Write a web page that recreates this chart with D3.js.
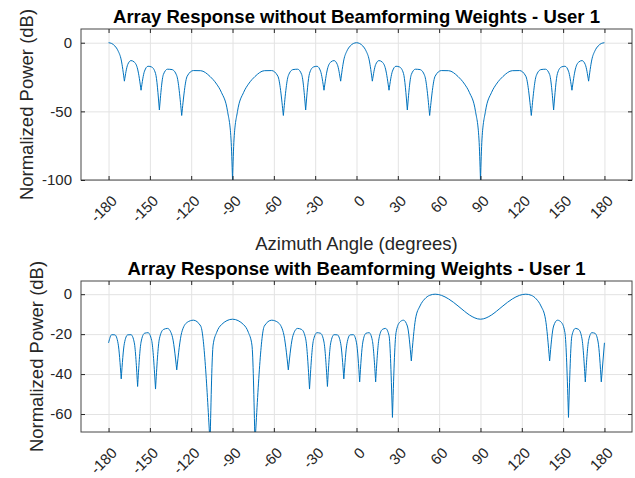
<!DOCTYPE html>
<html><head><meta charset="utf-8">
<script src="https://cdn.jsdelivr.net/npm/d3@7"></script>
<style>
html,body{margin:0;padding:0;background:#fff;}
svg{display:block;font-family:"Liberation Sans",Arial,sans-serif;}
</style></head>
<body>
<svg id="c" width="635" height="478"></svg>
<script>
// ---------- data ----------
const xTicks = [-180,-150,-120,-90,-60,-30,0,30,60,90,120,150,180];
const topYTicks = [-100,-50,0];
const botYTicks = [-60,-40,-20,0];

const topTitle = "Array Response without Beamforming Weights - User 1";
const botTitle = "Array Response with Beamforming Weights - User 1";
const xLabel = "Azimuth Angle (degrees)";
const yLabel = "Normalized Power (dB)";

// top panel: azimuth (deg) and normalized power (dB)
const topAngles = [
 -180,-177.7,-175.4,-173.1,-170.8,-168.5,-166.1,-163.7,-161.3,-158.9,-156.4,-153.9,-151.3,-148.7,-145.9,-143.1,-140.2,-137.2,-133.9,-130.5,-126.9,-122.9,-118.4,-113.1,-106.3,-104.1,-101.5,-98.1,-93.6,-91.1,-90,
 -88.9,-86.4,-81.9,-78.5,-75.9,-73.7,-66.9,-61.6,-57.1,-53.1,-49.5,-46.1,-42.8,-39.8,-36.9,-34.1,-31.3,-28.7,-26.1,-23.6,-21.1,-18.7,-16.3,-13.9,-11.5,-9.2,-6.9,-4.6,-2.3,0,
 2.3,4.6,6.9,9.2,11.5,13.9,16.3,18.7,21.1,23.6,26.1,28.7,31.3,34.1,36.9,39.8,42.8,46.1,49.5,53.1,57.1,61.6,66.9,73.7,75.9,78.5,81.9,86.4,88.9,90,
 91.1,93.6,98.1,101.5,104.1,106.3,113.1,118.4,122.9,126.9,130.5,133.9,137.2,140.2,143.1,145.9,148.7,151.3,153.9,156.4,158.9,161.3,163.7,166.1,168.5,170.8,173.1,175.4,177.7,180
];
const topPower = [
 0,-0.57,-2.40,-5.89,-12.53,-28,-15.93,-13.02,-14.09,-19.20,-34.6,-20.70,-17.14,-17.69,-22.35,-49,-23.15,-19.29,-19.57,-23.98,-53,-24.34,-20.28,-20.37,-24.60,-26.85,-30.2,-36.1,-50.1,-70.1,-100,
 -70.1,-50.1,-36.1,-30.2,-26.85,-24.60,-20.37,-20.28,-24.34,-53,-23.98,-19.57,-19.29,-23.15,-49,-22.35,-17.69,-17.14,-20.70,-34.6,-19.20,-14.09,-13.02,-15.93,-28,-12.53,-5.89,-2.40,-0.57,0,
 -0.57,-2.40,-5.89,-12.53,-28,-15.93,-13.02,-14.09,-19.20,-34.6,-20.70,-17.14,-17.69,-22.35,-49,-23.15,-19.29,-19.57,-23.98,-53,-24.34,-20.28,-20.37,-24.60,-26.85,-30.2,-36.1,-50.1,-70.1,-100,
 -70.1,-50.1,-36.1,-30.2,-26.85,-24.60,-20.37,-20.28,-24.34,-53,-23.98,-19.57,-19.29,-23.15,-49,-22.35,-17.69,-17.14,-20.70,-34.6,-19.20,-14.09,-13.02,-15.93,-28,-12.53,-5.89,-2.40,-0.57,0
];

// bottom panel: azimuth (deg) and normalized power (dB)
const botAngles = [
 -180,-177.7,-175.4,-173.1,-170.8,-168.5,-166.1,-163.7,-161.3,-158.9,-156.4,-153.9,-151.3,-148.7,-145.9,-143.1,-140.2,-137.2,-133.9,-130.5,-126.9,-122.9,-118.4,-113.1,-106.3,-104.1,-101.5,-98.1,-90,
 -81.9,-78.5,-75.9,-73.7,-66.9,-61.6,-57.1,-53.1,-49.5,-46.1,-42.8,-39.8,-36.9,-34.1,-31.3,-28.7,-26.1,-23.6,-21.1,-18.7,-16.3,-13.9,-11.5,-9.2,-6.9,-4.6,-2.3,0,
 2.3,4.6,6.9,9.2,11.5,13.9,16.3,18.7,21.1,23.6,26.1,28.7,31.3,34.1,36.9,39.8,42.8,46.1,49.5,53.1,57.1,61.6,66.9,73.7,75.9,78.5,81.9,90,
 98.1,101.5,104.1,106.3,113.1,118.4,122.9,126.9,130.5,133.9,137.2,140.2,143.1,145.9,148.7,151.3,153.9,156.4,158.9,161.3,163.7,166.1,168.5,170.8,173.1,175.4,177.7,180
];
const botPower = [
 -24.34,-20.28,-20.37,-24.60,-42.4,-24.60,-20.37,-20.28,-24.34,-46.2,-23.98,-19.57,-19.29,-23.15,-47.5,-22.35,-17.69,-17.14,-20.70,-37.9,-19.20,-14.09,-13.02,-15.93,-75,-25.5,-19.11,-15.29,-12.53,
 -15.29,-19.11,-25.5,-75,-15.93,-13.02,-14.09,-19.20,-37.9,-20.70,-17.14,-17.69,-22.35,-47.5,-23.15,-19.29,-19.57,-23.98,-46.2,-24.34,-20.28,-20.37,-24.60,-42.4,-24.60,-20.37,-20.28,-24.34,
 -43.9,-23.98,-19.57,-19.29,-23.15,-43.9,-22.35,-17.69,-17.14,-20.70,-61.7,-19.20,-14.09,-13.02,-15.93,-33.4,-12.53,-5.89,-2.40,-0.57,0,-0.57,-2.40,-5.89,-7.14,-8.61,-10.37,-12.53,
 -10.37,-8.61,-7.14,-5.89,-2.40,-0.57,0,-0.57,-2.40,-5.89,-12.53,-33.4,-15.93,-13.02,-14.09,-19.20,-61.7,-20.70,-17.14,-17.69,-22.35,-43.9,-23.15,-19.29,-19.57,-23.98,-43.9,-24.34
];

// ---------- drawing ----------
const svg = d3.select("#c");
const AX = "#262626", GRID = "#e3e3e3", LINE = "#0072BD";
const L = 81, R = 632;
const fmt = d => String(d);   // plain hyphen minus, as in the reference

function panel(o){
  const x = d3.scaleLinear().domain([-200,200]).range([L,R]);
  const y = d3.scaleLinear().domain(o.yDomain).range([o.bottom,o.top]);
  const g = svg.append("g");
  const h = o.bottom - o.top;

  // grid
  g.append("g").attr("transform",`translate(0,${o.bottom})`)
    .call(d3.axisBottom(x).tickValues(xTicks).tickSize(-h).tickFormat(""))
    .call(s=>{s.select(".domain").remove(); s.selectAll("line").attr("stroke",GRID);});
  g.append("g").attr("transform",`translate(${L},0)`)
    .call(d3.axisLeft(y).tickValues(o.yTicks).tickSize(-(R-L)).tickFormat(""))
    .call(s=>{s.select(".domain").remove(); s.selectAll("line").attr("stroke",GRID);});

  // curve, split at nulls so dips stay sharp
  const clipId = "clip"+o.id;
  svg.append("clipPath").attr("id",clipId).append("rect")
    .attr("x",L).attr("y",o.top).attr("width",R-L).attr("height",h);
  const pts = o.angles.map((a,i)=>[a,o.power[i]]);
  const cuts=[0];
  for(let i=1;i<pts.length-1;i++){
    if(pts[i][1] < pts[i-1][1]-3 && pts[i][1] < pts[i+1][1]-3) cuts.push(i);
  }
  cuts.push(pts.length-1);
  const line = d3.line().x(d=>x(d[0])).y(d=>y(d[1])).curve(d3.curveMonotoneX);
  const lg = g.append("g").attr("clip-path",`url(#${clipId})`);
  for(let k=0;k<cuts.length-1;k++){
    lg.append("path").datum(pts.slice(cuts[k],cuts[k+1]+1))
      .attr("d",line).attr("fill","none").attr("stroke",LINE).attr("stroke-width",1);
  }

  // axes
  const fs = "15px";
  g.append("g").attr("transform",`translate(0,${o.bottom})`)
    .call(d3.axisBottom(x).tickValues(xTicks).tickFormat(fmt).tickSizeInner(-4).tickSizeOuter(0))
    .call(s=>{
      s.select(".domain").remove();
      s.selectAll("line").attr("stroke",AX);
      s.selectAll("text").attr("x",0).attr("y",0).attr("dy",null)
        .attr("text-anchor","end").attr("dominant-baseline","central")
        .attr("transform","translate(5,18) rotate(-45)")
        .attr("fill",AX).style("font-size",fs).style("font-family","Liberation Sans, Arial, sans-serif");
    });
  g.append("g").attr("transform",`translate(0,${o.top})`)
    .call(d3.axisTop(x).tickValues(xTicks).tickSizeInner(-4).tickSizeOuter(0).tickFormat(""))
    .call(s=>{s.select(".domain").remove(); s.selectAll("line").attr("stroke",AX);});
  g.append("g").attr("transform",`translate(${L},0)`)
    .call(d3.axisLeft(y).tickValues(o.yTicks).tickFormat(fmt).tickSizeInner(-4).tickSizeOuter(0).tickPadding(9))
    .call(s=>{
      s.select(".domain").remove();
      s.selectAll("line").attr("stroke",AX);
      s.selectAll("text").attr("fill",AX).style("font-size",fs).style("font-family","Liberation Sans, Arial, sans-serif");
    });
  g.append("g").attr("transform",`translate(${R},0)`)
    .call(d3.axisRight(y).tickValues(o.yTicks).tickSizeInner(-4).tickSizeOuter(0).tickFormat(""))
    .call(s=>{s.select(".domain").remove(); s.selectAll("line").attr("stroke",AX);});

  g.append("rect").attr("x",L).attr("y",o.top).attr("width",R-L).attr("height",h)
    .attr("fill","none").attr("stroke",AX).attr("stroke-width",1).attr("opacity",0.85);

  // title
  g.append("text").attr("x",(L+R)/2).attr("y",o.titleY).attr("text-anchor","middle")
    .style("font-size","18.5px").style("font-weight","bold").attr("fill","#000").text(o.title);
  // y label
  g.append("text").attr("transform",`translate(${o.ylabX},${(o.top+o.bottom)/2}) rotate(-90)`)
    .attr("text-anchor","middle").style("font-size","18.5px").attr("fill",AX).text(yLabel);
  return {x,y};
}

panel({id:"t", top:29, bottom:180, yDomain:[-100,10], yTicks:topYTicks,
  angles:topAngles, power:topPower, title:topTitle, titleY:23, ylabX:33});
panel({id:"b", top:281, bottom:432, yDomain:[-69,6.6], yTicks:botYTicks,
  angles:botAngles, power:botPower, title:botTitle, titleY:275, ylabX:43});

svg.append("text").attr("x",(L+R)/2).attr("y",250).attr("text-anchor","middle")
  .style("font-size","18.5px").attr("fill",AX).text(xLabel);
</script>
</body></html>
